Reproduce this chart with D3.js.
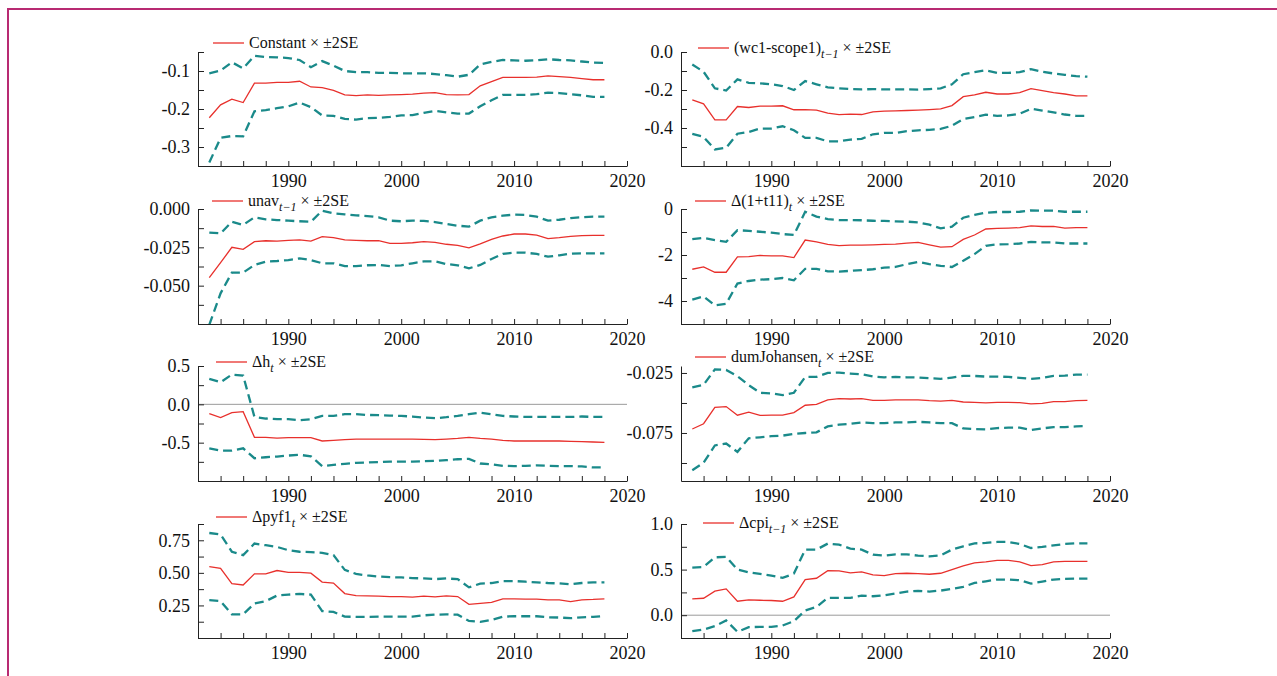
<!DOCTYPE html>
<html>
<head>
<meta charset="utf-8">
<script src="https://cdn.jsdelivr.net/npm/d3@7"></script>
<style>
  html, body { margin: 0; padding: 0; background: #fff; }
  svg { display: block; font-family: "Liberation Serif", "Times New Roman", serif; }
  .axis path, .axis line { stroke: #222; }
  .axis text { font-size: 18px; fill: #111; font-family: "Liberation Serif", "Times New Roman", serif; }
</style>
</head>
<body>
<div id="chart"></div>
<script>
const years = d3.range(1983, 2019);
const xTicks = d3.range(1982, 2021, 2);

// Constant
const constantMid = [-0.223,-0.189,-0.174,-0.183,-0.132,-0.132,-0.130,-0.130,-0.127,-0.142,-0.144,-0.151,-0.163,-0.165,-0.163,-0.164,-0.163,-0.162,-0.161,-0.158,-0.157,-0.162,-0.163,-0.162,-0.139,-0.128,-0.117,-0.117,-0.117,-0.116,-0.113,-0.115,-0.117,-0.120,-0.123,-0.123];
const constantHi = [-0.106,-0.099,-0.077,-0.093,-0.060,-0.063,-0.064,-0.066,-0.071,-0.090,-0.074,-0.086,-0.100,-0.103,-0.103,-0.105,-0.105,-0.106,-0.106,-0.106,-0.108,-0.111,-0.115,-0.110,-0.083,-0.076,-0.071,-0.072,-0.073,-0.072,-0.069,-0.071,-0.072,-0.075,-0.078,-0.079];
const constantLo = [-0.341,-0.276,-0.271,-0.272,-0.206,-0.203,-0.198,-0.193,-0.183,-0.195,-0.217,-0.218,-0.226,-0.228,-0.224,-0.223,-0.221,-0.217,-0.216,-0.210,-0.205,-0.209,-0.212,-0.212,-0.193,-0.177,-0.163,-0.163,-0.163,-0.161,-0.157,-0.158,-0.161,-0.164,-0.168,-0.168];

// (wc1-scope1)_{t-1}
const wcMid = [-0.252,-0.273,-0.357,-0.357,-0.287,-0.292,-0.285,-0.285,-0.283,-0.304,-0.303,-0.306,-0.322,-0.330,-0.327,-0.329,-0.315,-0.311,-0.310,-0.308,-0.306,-0.303,-0.299,-0.282,-0.235,-0.226,-0.212,-0.221,-0.221,-0.214,-0.193,-0.203,-0.214,-0.221,-0.231,-0.231];
const wcHi = [-0.066,-0.104,-0.191,-0.203,-0.144,-0.162,-0.165,-0.170,-0.179,-0.200,-0.153,-0.170,-0.186,-0.191,-0.195,-0.197,-0.195,-0.197,-0.197,-0.197,-0.198,-0.195,-0.191,-0.170,-0.117,-0.106,-0.096,-0.110,-0.110,-0.106,-0.090,-0.104,-0.113,-0.120,-0.127,-0.130];
const wcLo = [-0.431,-0.447,-0.513,-0.504,-0.430,-0.421,-0.403,-0.403,-0.391,-0.412,-0.452,-0.452,-0.470,-0.470,-0.461,-0.457,-0.433,-0.426,-0.426,-0.417,-0.412,-0.410,-0.405,-0.388,-0.353,-0.343,-0.330,-0.336,-0.334,-0.325,-0.299,-0.308,-0.318,-0.329,-0.336,-0.336];

// unav_{t-1}
const unavMid = [-0.0448,-0.0350,-0.0250,-0.0263,-0.0213,-0.0207,-0.0209,-0.0204,-0.0202,-0.0209,-0.0180,-0.0187,-0.0202,-0.0204,-0.0207,-0.0207,-0.0224,-0.0224,-0.0220,-0.0213,-0.0217,-0.0230,-0.0237,-0.0254,-0.0228,-0.0198,-0.0176,-0.0163,-0.0163,-0.0170,-0.0193,-0.0187,-0.0178,-0.0174,-0.0172,-0.0172];
const unavHi = [-0.0154,-0.0159,-0.0083,-0.0104,-0.0054,-0.0067,-0.0072,-0.0076,-0.0080,-0.0083,-0.0011,-0.0028,-0.0035,-0.0041,-0.0046,-0.0054,-0.0076,-0.0080,-0.0076,-0.0078,-0.0085,-0.0098,-0.0109,-0.0115,-0.0076,-0.0054,-0.0043,-0.0037,-0.0039,-0.0050,-0.0076,-0.0070,-0.0059,-0.0054,-0.0050,-0.0050];
const unavLo = [-0.0755,-0.0550,-0.0415,-0.0415,-0.0365,-0.0343,-0.0339,-0.0333,-0.0322,-0.0333,-0.0354,-0.0354,-0.0372,-0.0372,-0.0367,-0.0365,-0.0372,-0.0367,-0.0354,-0.0341,-0.0341,-0.0359,-0.0367,-0.0387,-0.0365,-0.0326,-0.0293,-0.0285,-0.0285,-0.0293,-0.0311,-0.0302,-0.0291,-0.0289,-0.0289,-0.0289];

// Δ(1+t11)_t
const t11Mid = [-2.62,-2.52,-2.75,-2.75,-2.08,-2.07,-2.02,-2.04,-2.04,-2.11,-1.35,-1.43,-1.54,-1.59,-1.57,-1.57,-1.56,-1.54,-1.53,-1.48,-1.45,-1.56,-1.66,-1.64,-1.32,-1.13,-0.87,-0.84,-0.83,-0.81,-0.73,-0.76,-0.76,-0.83,-0.81,-0.81];
const t11Hi = [-1.31,-1.25,-1.35,-1.43,-0.92,-0.95,-0.99,-1.03,-1.09,-1.13,-0.12,-0.33,-0.44,-0.48,-0.48,-0.49,-0.51,-0.52,-0.54,-0.55,-0.58,-0.68,-0.84,-0.77,-0.38,-0.26,-0.16,-0.13,-0.13,-0.12,-0.06,-0.07,-0.07,-0.12,-0.12,-0.12];
const t11Lo = [-3.94,-3.80,-4.19,-4.12,-3.24,-3.13,-3.07,-3.05,-3.00,-3.10,-2.60,-2.60,-2.71,-2.72,-2.69,-2.66,-2.62,-2.55,-2.52,-2.40,-2.30,-2.40,-2.47,-2.52,-2.25,-1.96,-1.60,-1.54,-1.53,-1.50,-1.43,-1.45,-1.45,-1.50,-1.50,-1.50];

// Δh_t
const dhMid = [-0.121,-0.172,-0.108,-0.095,-0.431,-0.431,-0.440,-0.435,-0.435,-0.435,-0.478,-0.470,-0.461,-0.453,-0.453,-0.453,-0.453,-0.453,-0.453,-0.457,-0.461,-0.453,-0.444,-0.431,-0.444,-0.453,-0.470,-0.478,-0.478,-0.478,-0.478,-0.478,-0.483,-0.487,-0.491,-0.496];
const dhHi = [0.332,0.289,0.388,0.375,-0.164,-0.185,-0.194,-0.194,-0.207,-0.194,-0.151,-0.151,-0.129,-0.129,-0.138,-0.142,-0.147,-0.151,-0.159,-0.172,-0.181,-0.168,-0.151,-0.129,-0.108,-0.129,-0.151,-0.159,-0.164,-0.164,-0.164,-0.164,-0.164,-0.159,-0.164,-0.164];
const dhLo = [-0.573,-0.603,-0.603,-0.573,-0.703,-0.690,-0.681,-0.668,-0.659,-0.677,-0.806,-0.789,-0.776,-0.763,-0.759,-0.754,-0.746,-0.746,-0.746,-0.741,-0.737,-0.728,-0.716,-0.711,-0.772,-0.784,-0.802,-0.806,-0.802,-0.797,-0.802,-0.806,-0.806,-0.810,-0.823,-0.823];

// dumJohansen_t
const johMid = [-0.0717,-0.0673,-0.0536,-0.0530,-0.0602,-0.0577,-0.0604,-0.0602,-0.0602,-0.0580,-0.0519,-0.0511,-0.0475,-0.0464,-0.0467,-0.0464,-0.0478,-0.0478,-0.0475,-0.0475,-0.0475,-0.0481,-0.0484,-0.0478,-0.0492,-0.0495,-0.0500,-0.0495,-0.0495,-0.0497,-0.0508,-0.0503,-0.0489,-0.0489,-0.0481,-0.0478];
const johHi = [-0.0371,-0.0349,-0.0220,-0.0225,-0.0277,-0.0352,-0.0415,-0.0420,-0.0434,-0.0415,-0.0283,-0.0283,-0.0250,-0.0247,-0.0255,-0.0261,-0.0280,-0.0286,-0.0283,-0.0286,-0.0288,-0.0294,-0.0299,-0.0288,-0.0275,-0.0275,-0.0280,-0.0280,-0.0283,-0.0291,-0.0299,-0.0291,-0.0275,-0.0272,-0.0264,-0.0264];
const johLo = [-0.1060,-0.0997,-0.0854,-0.0838,-0.0907,-0.0794,-0.0786,-0.0777,-0.0772,-0.0758,-0.0750,-0.0745,-0.0695,-0.0681,-0.0673,-0.0662,-0.0668,-0.0668,-0.0662,-0.0662,-0.0657,-0.0662,-0.0668,-0.0668,-0.0712,-0.0717,-0.0720,-0.0709,-0.0706,-0.0706,-0.0725,-0.0712,-0.0701,-0.0701,-0.0695,-0.0692];

// Δpyf1_t
const pyfMid = [0.548,0.535,0.417,0.407,0.492,0.492,0.518,0.503,0.503,0.498,0.429,0.422,0.341,0.326,0.323,0.321,0.318,0.318,0.313,0.321,0.316,0.323,0.318,0.258,0.265,0.273,0.301,0.301,0.298,0.298,0.293,0.293,0.280,0.293,0.296,0.301];
const pyfHi = [0.806,0.795,0.662,0.636,0.725,0.712,0.699,0.674,0.662,0.659,0.654,0.636,0.523,0.492,0.480,0.472,0.467,0.465,0.460,0.457,0.452,0.457,0.452,0.389,0.417,0.422,0.437,0.437,0.432,0.427,0.422,0.419,0.412,0.422,0.427,0.427];
const pyfLo = [0.290,0.283,0.182,0.182,0.265,0.283,0.326,0.333,0.338,0.333,0.207,0.200,0.164,0.162,0.162,0.164,0.164,0.164,0.164,0.174,0.179,0.182,0.179,0.131,0.124,0.139,0.164,0.167,0.167,0.167,0.159,0.157,0.152,0.159,0.162,0.169];

// Δcpi_{t-1}
const cpiMid = [0.179,0.186,0.263,0.288,0.153,0.168,0.164,0.161,0.153,0.201,0.391,0.405,0.489,0.485,0.464,0.474,0.442,0.434,0.456,0.460,0.456,0.449,0.460,0.500,0.540,0.573,0.584,0.602,0.602,0.584,0.544,0.555,0.584,0.591,0.591,0.591];
const cpiHi = [0.522,0.529,0.635,0.639,0.500,0.471,0.453,0.434,0.409,0.456,0.719,0.719,0.785,0.774,0.730,0.719,0.664,0.653,0.668,0.668,0.653,0.646,0.657,0.719,0.755,0.788,0.792,0.803,0.803,0.781,0.737,0.748,0.766,0.781,0.788,0.788];
const cpiLo = [-0.175,-0.157,-0.120,-0.058,-0.182,-0.131,-0.128,-0.128,-0.113,-0.066,0.051,0.091,0.190,0.190,0.190,0.215,0.208,0.219,0.237,0.259,0.266,0.259,0.270,0.288,0.310,0.354,0.372,0.391,0.391,0.383,0.347,0.369,0.391,0.398,0.401,0.401];

// legend names: [main text, subscript]
const names = [
  ["Constant", ""], ["(wc1-scope1)", "t\u22121"],
  ["unav", "t\u22121"], ["\u0394(1+t11)", "t"],
  ["\u0394h", "t"], ["dumJohansen", "t"],
  ["\u0394pyf1", "t"], ["\u0394cpi", "t\u22121"]
];

// per-panel axis setup
const panels = [
  {mid: constantMid, hi: constantHi, lo: constantLo, domain: [-0.35, -0.05], ticks: d3.range(-0.35, -0.049, 0.05), labels: [-0.1, -0.2, -0.3], fmt: ".1f"},
  {mid: wcMid, hi: wcHi, lo: wcLo, domain: [-0.6, 0.0], ticks: d3.range(-0.6, 0.001, 0.1), labels: [0, -0.2, -0.4], fmt: ".1f"},
  {mid: unavMid, hi: unavHi, lo: unavLo, domain: [-0.075, 0.0], ticks: d3.range(-0.075, 0.0001, 0.0125), labels: [0, -0.025, -0.05], fmt: ".3f"},
  {mid: t11Mid, hi: t11Hi, lo: t11Lo, domain: [-5, 0], ticks: d3.range(-5, 0.01, 1), labels: [0, -2, -4], fmt: "d"},
  {mid: dhMid, hi: dhHi, lo: dhLo, domain: [-1.0, 0.5], ticks: d3.range(-1.0, 0.501, 0.25), labels: [0.5, 0, -0.5], fmt: ".1f", zero: true},
  {mid: johMid, hi: johHi, lo: johLo, domain: [-0.115, -0.0192], ticks: [-0.1, -0.075, -0.05, -0.025], labels: [-0.025, -0.075], fmt: ".3f"},
  {mid: pyfMid, hi: pyfHi, lo: pyfLo, domain: [0, 0.875], ticks: d3.range(0, 0.876, 0.125), labels: [0.75, 0.5, 0.25], fmt: ".2f"},
  {mid: cpiMid, hi: cpiHi, lo: cpiLo, domain: [-0.25, 1.0], ticks: d3.range(-0.25, 1.001, 0.25), labels: [1, 0.5, 0], fmt: ".1f", zero: true}
];

const W = 1277, H = 676;
const colX = [[198, 627], [681, 1110]];
const rowY = [[52, 166], [209, 324], [366, 481], [524, 638]];
const legendPos = [[15, -9], [17, -4], [14, -8], [14, -8], [18, -4], [14, -9], [18, -7], [22, -1]];

const svg = d3.select("#chart").append("svg")
  .attr("width", W).attr("height", H);

// magenta frame
svg.append("rect")
  .attr("x", 8).attr("y", 9).attr("width", W + 20).attr("height", H + 20)
  .attr("fill", "none").attr("stroke", "#b82a72").attr("stroke-width", 2);

panels.forEach((p, i) => {
  const [x0, x1] = colX[i % 2];
  const [y0, y1] = rowY[Math.floor(i / 2)];
  const x = d3.scaleLinear().domain([1982, 2020]).range([x0, x1]);
  const y = d3.scaleLinear().domain(p.domain).range([y1, y0]);
  const g = svg.append("g");

  const clipId = "clip" + i;
  svg.append("clipPath").attr("id", clipId).append("rect")
    .attr("x", x0).attr("y", y0 - 2).attr("width", x1 - x0).attr("height", y1 - y0 + 2);

  if (p.zero) {
    g.append("line").attr("x1", x0).attr("x2", x1).attr("y1", y(0)).attr("y2", y(0))
      .attr("stroke", "#9a9a9a").attr("stroke-width", 1);
  }

  const isLabel = v => p.labels.some(l => Math.abs(l - v) < 1e-6);
  const f = d3.format(p.fmt);

  g.append("g").attr("class", "axis")
    .attr("transform", `translate(0,${y1})`)
    .call(d3.axisBottom(x).tickValues(xTicks).tickSizeInner(-5).tickSizeOuter(0).tickPadding(8)
      .tickFormat(d => d % 10 === 0 ? d : ""));

  g.append("g").attr("class", "axis")
    .attr("transform", `translate(${x0},0)`)
    .call(d3.axisLeft(y).tickValues(p.ticks).tickSizeInner(-6).tickSizeOuter(0).tickPadding(8)
      .tickFormat(d => isLabel(d) ? f(Math.abs(d) < 1e-9 ? 0 : d).replace("\u2212", "-") : ""));

  const line = d3.line().x((d, j) => x(years[j])).y(d => y(d));
  const lines = g.append("g").attr("clip-path", `url(#${clipId})`);
  [p.hi, p.lo].forEach(s => {
    lines.append("path").attr("d", line(s))
      .attr("fill", "none").attr("stroke", "#1a8a8a").attr("stroke-width", 2.3)
      .attr("stroke-dasharray", "9,5");
  });
  lines.append("path").attr("d", line(p.mid))
    .attr("fill", "none").attr("stroke", "#e8302c").attr("stroke-width", 1.3);

  // legend
  const lx = x0 + legendPos[i][0], ly = y0 + legendPos[i][1];
  g.append("line").attr("x1", lx).attr("x2", lx + 31).attr("y1", ly).attr("y2", ly)
    .attr("stroke", "#e8302c").attr("stroke-width", 1.3);
  const t = g.append("text").attr("x", lx + 36).attr("y", ly + 5)
    .attr("font-size", 16).attr("fill", "#111");
  t.append("tspan").text(names[i][0]);
  if (names[i][1]) {
    t.append("tspan").attr("dy", 5).attr("font-size", 12).attr("font-style", "italic").text(names[i][1]);
    t.append("tspan").attr("dy", -5).text(" \u00d7 \u00b12SE");
  } else {
    t.append("tspan").text(" \u00d7 \u00b12SE");
  }
});
</script>
</body>
</html>
